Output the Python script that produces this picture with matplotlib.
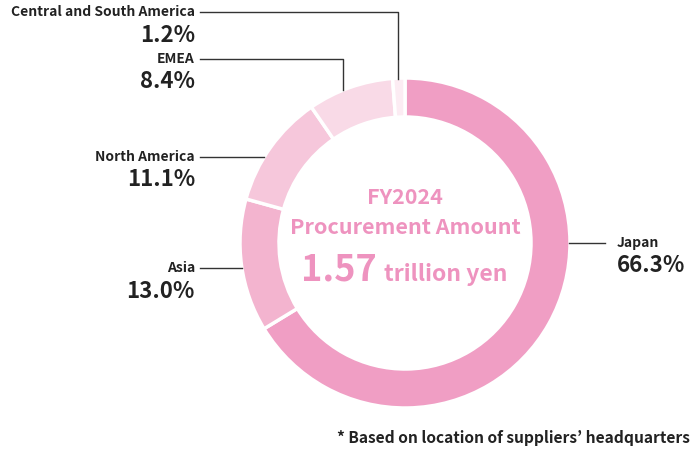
import matplotlib
matplotlib.use("Agg")
import matplotlib.pyplot as plt

regions = ["Japan", "Asia", "North America", "EMEA", "Central and South America"]
shares = [66.3, 13.0, 11.1, 8.4, 1.2]
colors = ["#F09EC4", "#F3B4CF", "#F6C7DB", "#F9DAE7", "#FCECF3"]
pct_labels = ["66.3%", "13.0%", "11.1%", "8.4%", "1.2%"]

W, H = 700, 462
fig = plt.figure(figsize=(7, 4.62), dpi=100)
ax = fig.add_axes([0, 0, 1, 1])
ax.set_xlim(0, W)
ax.set_ylim(0, H)
ax.set_aspect("equal")
ax.axis("off")

def Y(y):
    return H - y

FONT = ["Noto Sans CJK JP", "DejaVu Sans"]
cx, cy, R, w = 405, 243, 165, 39
ax.pie(shares, colors=colors, startangle=90, counterclock=False,
       center=(cx, Y(cy)), radius=R,
       wedgeprops=dict(width=w, edgecolor="white", linewidth=2.5))
ax.set_xlim(0, W)
ax.set_ylim(0, H)

lc = "#333333"
lw = 1.0
# leader lines
ax.plot([200, 398, 398], [Y(12), Y(12), Y(79)], color=lc, lw=lw)
ax.plot([200, 343, 343], [Y(59), Y(59), Y(90)], color=lc, lw=lw)
ax.plot([200, 264], [Y(157), Y(157)], color=lc, lw=lw)
ax.plot([200, 242], [Y(268), Y(268)], color=lc, lw=lw)
ax.plot([569, 605], [Y(243), Y(243)], color=lc, lw=lw)

tc = "#222222"
def lab(x, y, name, pct, ha):
    ax.text(x, Y(y), name, ha=ha, va="center", fontsize=10, fontweight="bold",
            color=tc, family=FONT)
    ax.text(x, Y(y + 23), pct, ha=ha, va="center", fontsize=16, fontweight="bold",
            color=tc, family=FONT)

lab(195, 12, regions[4], pct_labels[4], "right")
lab(195, 59, regions[3], pct_labels[3], "right")
lab(195, 157, regions[2], pct_labels[2], "right")
lab(195, 268, regions[1], pct_labels[1], "right")
lab(617, 243, regions[0], pct_labels[0], "left")

pc = "#EE93BF"
ax.text(cx, Y(197), "FY2024", ha="center", va="center", fontsize=15.5,
        fontweight="bold", color=pc, family=FONT)
ax.text(cx, Y(228), "Procurement Amount", ha="center", va="center", fontsize=15.5,
        fontweight="bold", color=pc, family=FONT)
ax.text(377, Y(270), "1.57", ha="right", va="center", fontsize=26,
        fontweight="bold", color=pc, family=FONT)
ax.text(384, Y(275), "trillion yen", ha="left", va="center", fontsize=16.5,
        fontweight="bold", color=pc, family=FONT)

ax.text(690, Y(438), "* Based on location of suppliers\u2019 headquarters", ha="right",
        va="center", fontsize=11.2, fontweight="bold", color=tc, family=FONT)

fig.savefig("out.png", dpi=100, facecolor="white")
